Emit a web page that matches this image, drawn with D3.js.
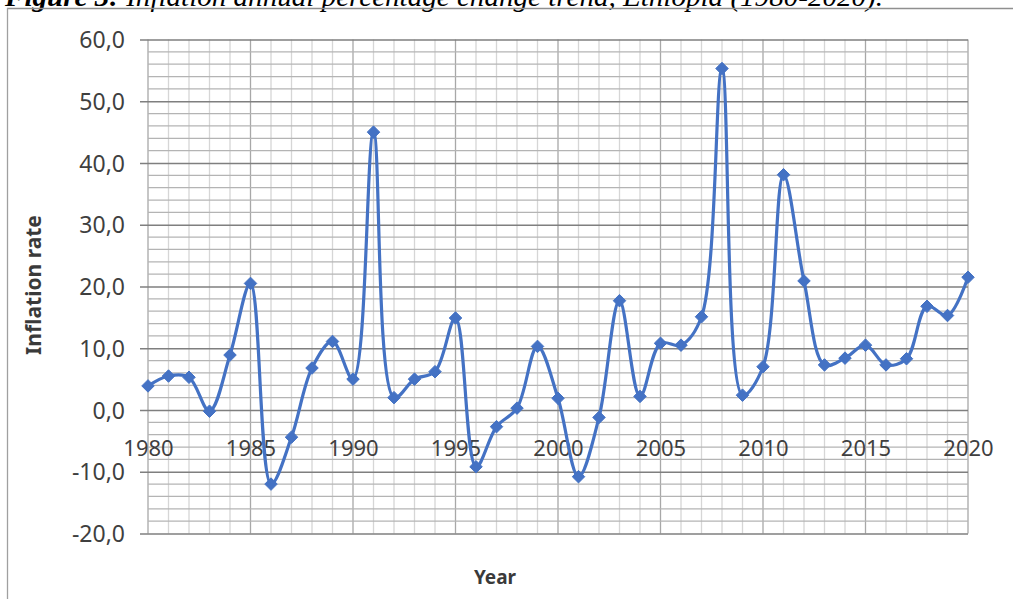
<!DOCTYPE html>
<html>
<head>
<meta charset="utf-8">
<script src="https://cdn.jsdelivr.net/npm/d3@7"></script>
<style>
  html, body { margin: 0; padding: 0; background: #ffffff; }
  svg { display: block; }
</style>
</head>
<body>
<svg id="chart" width="1013" height="599"></svg>
<script>
// Ethiopia, annual inflation (%), 1980–2020
const years = d3.range(1980, 2021);
const inflation = [
  3.9, 5.5, 5.3, -0.2, 8.9, 20.5, -12.0, -4.4, 6.8, 11.1,
  5.0, 45.0, 2.0, 5.0, 6.2, 14.9, -9.2, -2.7, 0.3, 10.3,
  1.9, -10.8, -1.2, 17.7, 2.2, 10.8, 10.5, 15.1, 55.3, 2.4,
  7.0, 38.1, 20.9, 7.3, 8.4, 10.5, 7.3, 8.3, 16.8, 15.3,
  21.5
];
const yTicks = [-20, -10, 0, 10, 20, 30, 40, 50, 60];
const xTicks = [1980, 1985, 1990, 1995, 2000, 2005, 2010, 2015, 2020];
const titleBold = "Figure 3:";
const titleRest = " Inflation annual percentage change trend, Ethiopia (1980-2020).";
const yTitle = "Inflation rate";
const xTitle = "Year";

const svg = d3.select("#chart");
const plotL = 148, plotR = 968, plotT = 39.5, plotB = 533.5;

const x = d3.scaleLinear().domain([1980, 2020]).range([plotL, plotR]);
const y = d3.scaleLinear().domain([-20, 60]).range([plotB, plotT]);

// caption above the chart frame (partly outside the page)
const cap = svg.append("text")
  .attr("x", 5).attr("y", 6)
  .attr("textLength", 878).attr("lengthAdjust", "spacingAndGlyphs")
  .attr("font-family", "'Liberation Serif', 'Times New Roman', serif")
  .attr("font-size", 28).attr("font-style", "italic").attr("fill", "#000");
cap.append("tspan").attr("font-weight", "bold").text(titleBold);
cap.append("tspan").text(titleRest);

// chart frame
svg.append("line").attr("x1", 7).attr("x2", 1013).attr("y1", 8.5).attr("y2", 8.5)
  .attr("stroke", "#8f8f8f").attr("stroke-width", 1.3);
svg.append("line").attr("x1", 7.5).attr("x2", 7.5).attr("y1", 8).attr("y2", 599)
  .attr("stroke", "#a0a0a0").attr("stroke-width", 1.3);

const grid = svg.append("g");

// vertical gridlines: every year, darker every five years
grid.selectAll("line.vx").data(years).join("line")
  .attr("x1", d => x(d)).attr("x2", d => x(d))
  .attr("y1", plotT).attr("y2", plotB)
  .attr("stroke", d => d % 5 === 0 ? "#a8a8a8" : "#d6d6d6")
  .attr("stroke-width", 1.3);

// minor horizontal gridlines every 2 units
const minorY = d3.range(-20, 61, 2).filter(v => v % 10 !== 0);
grid.selectAll("line.hm").data(minorY).join("line")
  .attr("x1", plotL).attr("x2", plotR)
  .attr("y1", d => y(d)).attr("y2", d => y(d))
  .attr("stroke", "#b4b4b4").attr("stroke-width", 1.2);

// y axis with major gridlines
const yAxis = d3.axisLeft(y).tickValues(yTicks)
  .tickSize(-(plotR - plotL)).tickSizeOuter(0)
  .tickFormat(d => d3.format(".1f")(d).replace(".", ",").replace("−", "-"));
const gy = svg.append("g").attr("transform", `translate(${plotL},0)`).call(yAxis);
gy.select(".domain").remove();
gy.selectAll(".tick line").attr("x1", -8).attr("stroke", "#7f7f7f").attr("stroke-width", 1.3);
gy.selectAll(".tick text")
  .attr("x", -23).attr("dy", "0.35em")
  .attr("font-family", "'Noto Sans', 'Open Sans', sans-serif")
  .attr("font-size", 23).attr("fill", "#3f3f3f");

// x axis labels below the zero line
const xAxis = d3.axisBottom(x).tickValues(xTicks).tickSize(0).tickFormat(d3.format("d"));
const gx = svg.append("g").attr("transform", `translate(0,${y(0)})`).call(xAxis);
gx.select(".domain").remove();
gx.selectAll(".tick text")
  .attr("y", 38).attr("dy", "0.35em")
  .attr("font-family", "'Noto Sans', 'Open Sans', sans-serif")
  .attr("font-size", 22).attr("fill", "#3f3f3f");

// series line, smoothed
const pts = years.map((yr, i) => [yr, inflation[i]]);
const line = d3.line().x(d => x(d[0])).y(d => y(d[1])).curve(d3.curveCatmullRom.alpha(0.5));
svg.append("path").datum(pts)
  .attr("d", line).attr("fill", "none")
  .attr("stroke", "#4472c4").attr("stroke-width", 3.2)
  .attr("stroke-linejoin", "round");

// diamond markers
const diamond = d3.symbol().type(d3.symbolDiamond2).size(100);
svg.selectAll("path.mk").data(pts).join("path")
  .attr("d", diamond)
  .attr("transform", d => `translate(${x(d[0])},${y(d[1])})`)
  .attr("fill", "#4472c4").attr("stroke", "#4472c4").attr("stroke-width", 1);

// axis titles
svg.append("text")
  .attr("transform", `translate(34,285) rotate(-90)`)
  .attr("text-anchor", "middle").attr("dy", "0.35em")
  .attr("font-family", "'Noto Sans', 'Open Sans', sans-serif")
  .attr("font-size", 21).attr("font-weight", "bold").attr("fill", "#3a3a3a")
  .text(yTitle);
svg.append("text")
  .attr("x", 495).attr("y", 577)
  .attr("text-anchor", "middle").attr("dy", "0.35em")
  .attr("font-family", "'Noto Sans', 'Open Sans', sans-serif")
  .attr("font-size", 19).attr("font-weight", "bold").attr("fill", "#3a3a3a")
  .text(xTitle);
</script>
</body>
</html>
